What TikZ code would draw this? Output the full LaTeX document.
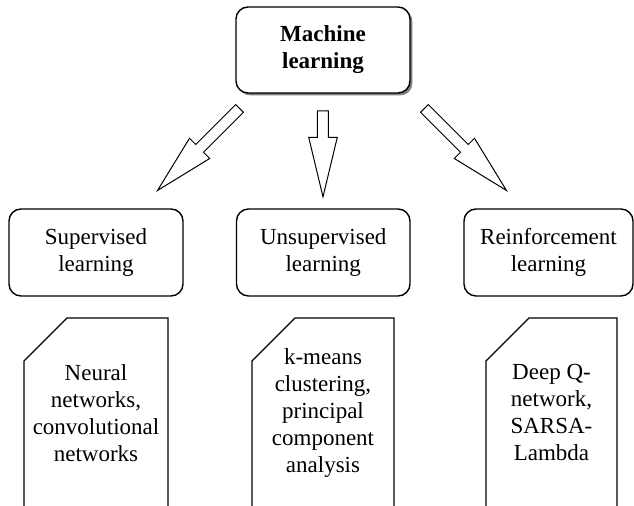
\documentclass[tikz,border=0pt]{standalone}
\usepackage{fontspec}
\setmainfont{Liberation Serif}
\usetikzlibrary{shapes.arrows, shadows}

\tikzset{
    category/.style={draw, fill=white, rounded corners=6pt, line width=0.7pt, minimum width=87pt, minimum height=43.5pt, align=center},
    blockarrow/.style={single arrow, draw, fill=white, line width=0.5pt, inner xsep=0pt, inner ysep=2.5pt, minimum width=13pt, single arrow head extend=4.4pt, single arrow tip angle=27, anchor=tip}
}
\newcommand{\bigarrow}[3]{
    \node[blockarrow, minimum height=#2pt, rotate=#3] (#1) {};
}
\newcommand{\card}[3]{
    % Card outline, cut off at the bottom
    \draw[line width=0.6pt] (0,188) -- (0,43) -- (43,0) -- (#1,0) -- (#1,188);
    \node[align=center] (#2) at (#1/2, 95) {#3};
}

\begin{document}
\begin{tikzpicture}[x=0.5pt, y=-0.5pt, font=\fontsize{11.5}{13.5}\selectfont]
    \useasboundingbox (0,0) rectangle (634,506);

    % Root of the tree
    \node[category, minimum height=43pt, font=\fontsize{11.5}{13.5}\selectfont\bfseries,
        drop shadow={shadow xshift=1.2pt, shadow yshift=-1.2pt, fill=black!50, opacity=1}]
        (ml) at (323,50) {Machine\\learning};

    % The three kinds of learning
    \node[category] (sup) at (96,252.5) {Supervised\\learning};
    \node[category, minimum width=86.75pt] (unsup) at (323.25,252.5) {Unsupervised\\learning};
    \node[category, minimum width=84.5pt] (rein) at (548.5,252.5) {Reinforcement\\learning};

    % Arrows from the root, placed by their tips
    \begin{scope}[shift={(156,192)}]
        \bigarrow{arrsup}{58}{225};
    \end{scope}
    \begin{scope}[shift={(323,199)}]
        \bigarrow{arrunsup}{43}{270};
    \end{scope}
    \begin{scope}[shift={(508,192)}]
        \bigarrow{arrrein}{58}{315};
    \end{scope}

    % Example methods
    \begin{scope}[shift={(24,318)}]
        \card{144}{nn}{Neural\\networks,\\convolutional\\networks};
    \end{scope}
    \begin{scope}[shift={(252,318)}]
        \card{142}{km}{k-means\\clustering,\\principal\\component\\analysis};
    \end{scope}
    \begin{scope}[shift={(486,318)}]
        \card{131}{dq}{Deep Q-\\network,\\SARSA-\\Lambda};
    \end{scope}
\end{tikzpicture}
\end{document}
